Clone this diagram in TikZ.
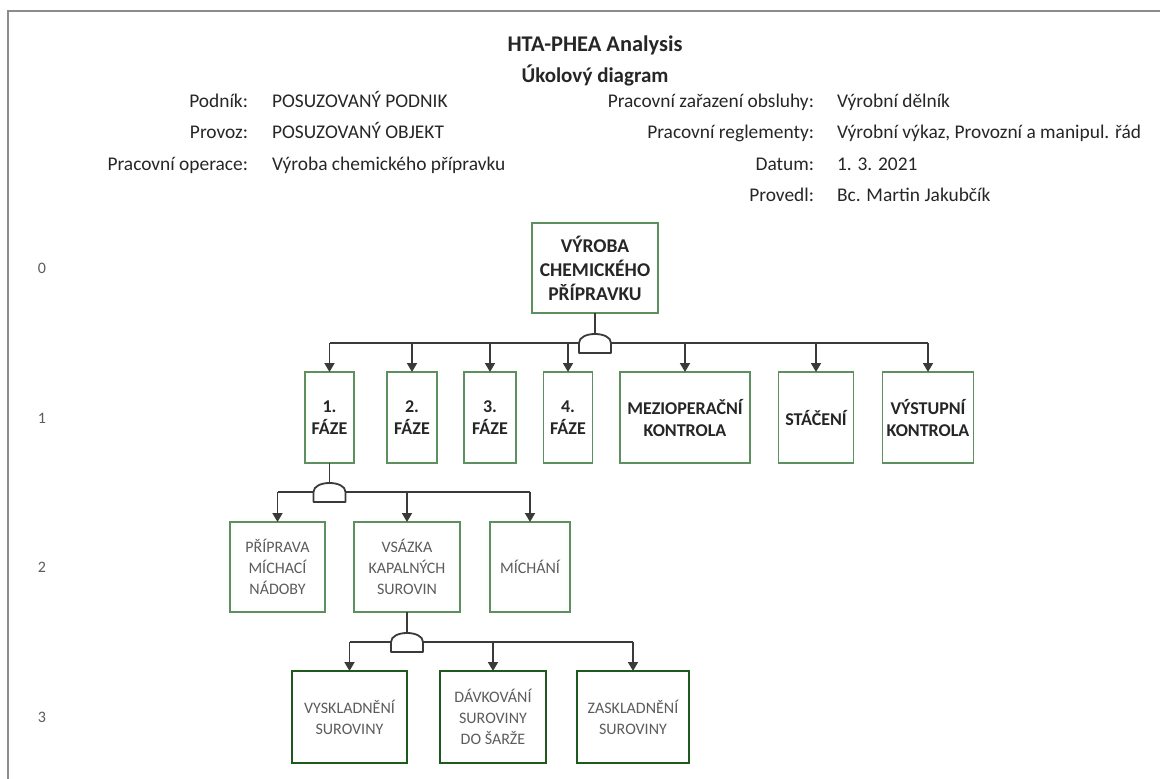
\documentclass[tikz,border=0pt]{standalone}
\usepackage{fontspec}
\setmainfont{Carlito}
\usetikzlibrary{arrows.meta}

\definecolor{framegray}{HTML}{8C8C8C}
\definecolor{boxgreen}{HTML}{5E8F5E}
\definecolor{darkgreen}{HTML}{1E5A1E}
\definecolor{inkdark}{HTML}{262626}
\definecolor{inkgray}{HTML}{5C5C5C}
\definecolor{wirecol}{HTML}{3A3A3A}

\begin{document}
\begin{tikzpicture}[x=1pt,y=-1pt,
  every node/.style={inner sep=0pt, outer sep=0pt},
  taskroot/.style={draw=boxgreen, line width=1.6pt, fill=white, align=center,
    text=inkdark, font=\fontsize{19.5}{24}\selectfont\bfseries},
  taskone/.style={draw=boxgreen, line width=1.6pt, fill=white, align=center,
    text=inkdark, font=\fontsize{18}{22}\selectfont\bfseries, minimum height=91pt},
  tasktwo/.style={draw=boxgreen, line width=1.3pt, fill=white, align=center,
    text=inkgray, font=\fontsize{16}{21}\selectfont, minimum height=90pt},
  taskthree/.style={draw=darkgreen, line width=2.6pt, fill=white, align=center,
    text=inkgray, font=\fontsize{16}{21}\selectfont, minimum height=92pt},
  hdr/.style={text=inkdark, font=\fontsize{19.4}{23}\selectfont},
  lvl/.style={text=inkgray, font=\fontsize{16}{20}\selectfont},
  wire/.style={draw=wirecol, line width=1.8pt},
  arrowwire/.style={wire, -{Triangle[length=9pt,width=10pt]}},
  andgate/.pic={\draw[wire, fill=white, line join=round]
    (-16,10) -- (-16,0) .. controls (-16,-12) and (16,-12) .. (16,0) -- (16,10) -- cycle;}
]
\useasboundingbox (0,0) rectangle (1160,779);

% page frame
\draw[framegray, line width=2pt] (8,779) -- (8,11) -- (1160,11);

% title block
\node[font=\fontsize{22.4}{26}\selectfont\bfseries, text=inkdark] (title) at (595,45) {HTA-PHEA Analysis};
\node[font=\fontsize{21}{25}\selectfont\bfseries, text=inkdark] (subtitle) at (595,75) {Úkolový diagram};

% header fields, left column
\node[hdr, anchor=mid east] (l1) at (248,105) {Podník:};
\node[hdr, anchor=mid west] (v1) at (272,105) {POSUZOVANÝ PODNIK};
\node[hdr, anchor=mid east] (l2) at (248,136.5) {Provoz:};
\node[hdr, anchor=mid west] (v2) at (272,136.5) {POSUZOVANÝ OBJEKT};
\node[hdr, anchor=mid east] (l3) at (248,168) {Pracovní operace:};
\node[hdr, anchor=mid west] (v3) at (272,168) {Výroba chemického přípravku};

% header fields, right column
\node[hdr, anchor=mid east] (r1) at (814,105) {Pracovní zařazení obsluhy:};
\node[hdr, anchor=mid west] (w1) at (837,105) {Výrobní dělník};
\node[hdr, anchor=mid east] (r2) at (814,136.5) {Pracovní reglementy:};
\node[hdr, anchor=mid west] (w2) at (837,136.5) {Výrobní výkaz, Provozní a manipul. řád};
\node[hdr, anchor=mid east] (r3) at (814,168) {Datum:};
\node[hdr, anchor=mid west] (w3) at (837,168) {1. 3. 2021};
\node[hdr, anchor=mid east] (r4) at (814,199.5) {Provedl:};
\node[hdr, anchor=mid west] (w4) at (837,199.5) {Bc. Martin Jakubčík};

% level numbers
\node[lvl] (n0) at (42,268) {0};
\node[lvl] (n1) at (42,418) {1};
\node[lvl] (n2) at (42,567) {2};
\node[lvl] (n3) at (42,717) {3};

% level 0
\node[taskroot, minimum width=126pt, minimum height=90pt] (root) at (595,268)
  {VÝROBA\\CHEMICKÉHO\\PŘÍPRAVKU};

% level 1
\node[taskone, minimum width=49pt]  (f1)  at (329.5,417.5) {1.\\FÁZE};
\node[taskone, minimum width=50pt]  (f2)  at (412,417.5)   {2.\\FÁZE};
\node[taskone, minimum width=52pt]  (f3)  at (490,417.5)   {3.\\FÁZE};
\node[taskone, minimum width=49pt]  (f4)  at (568,417.5)   {4.\\FÁZE};
\node[taskone, minimum width=130pt] (mez) at (685,417.5)   {MEZIOPERAČNÍ\\KONTROLA};
\node[taskone, minimum width=75pt]  (sta) at (816,417.5)   {STÁČENÍ};
\node[taskone, minimum width=91pt]  (vys) at (928,417.5)   {VÝSTUPNÍ\\KONTROLA};

% level 2
\node[tasktwo, minimum width=95pt]  (pri) at (277.5,567) {PŘÍPRAVA\\MÍCHACÍ\\NÁDOBY};
\node[tasktwo, minimum width=106pt] (vsa) at (407,567)   {VSÁZKA\\KAPALNÝCH\\SUROVIN};
\node[tasktwo, minimum width=80pt]  (mic) at (530,567)   {MÍCHÁNÍ};

% level 3
\node[taskthree, minimum width=115pt] (vyk) at (349.5,717) {VYSKLADNĚNÍ\\SUROVINY};
\node[taskthree, minimum width=106pt] (dav) at (493,717)   {DÁVKOVÁNÍ\\SUROVINY\\DO ŠARŽE};
\node[taskthree, minimum width=112pt] (zas) at (633,717)   {ZASKLADNĚNÍ\\SUROVINY};

% decomposition junctions (bus level)
\coordinate (g0) at (595,343);
\coordinate (g1) at (329.5,492);
\coordinate (g2) at (407,642);

% root -> level 1
\draw[wire] (root.south) -- (g0);
\draw[wire] (f1.north |- g0) -- (vys.north |- g0);
\foreach \c in {f1,f2,f3,f4,mez,sta,vys}
  \draw[arrowwire] (\c.north |- g0) -- (\c.north);
\pic at (g0) {andgate};

% 1. FÁZE -> level 2
\draw[wire] (f1.south) -- (g1);
\draw[wire] (pri.north |- g1) -- (mic.north |- g1);
\foreach \c in {pri,vsa,mic}
  \draw[arrowwire] (\c.north |- g1) -- (\c.north);
\pic at (g1) {andgate};

% VSÁZKA -> level 3
\draw[wire] (vsa.south) -- (g2);
\draw[wire] (vyk.north |- g2) -- (zas.north |- g2);
\foreach \c in {vyk,dav,zas}
  \draw[arrowwire] (\c.north |- g2) -- (\c.north);
\pic at (g2) {andgate};
\end{tikzpicture}
\end{document}
